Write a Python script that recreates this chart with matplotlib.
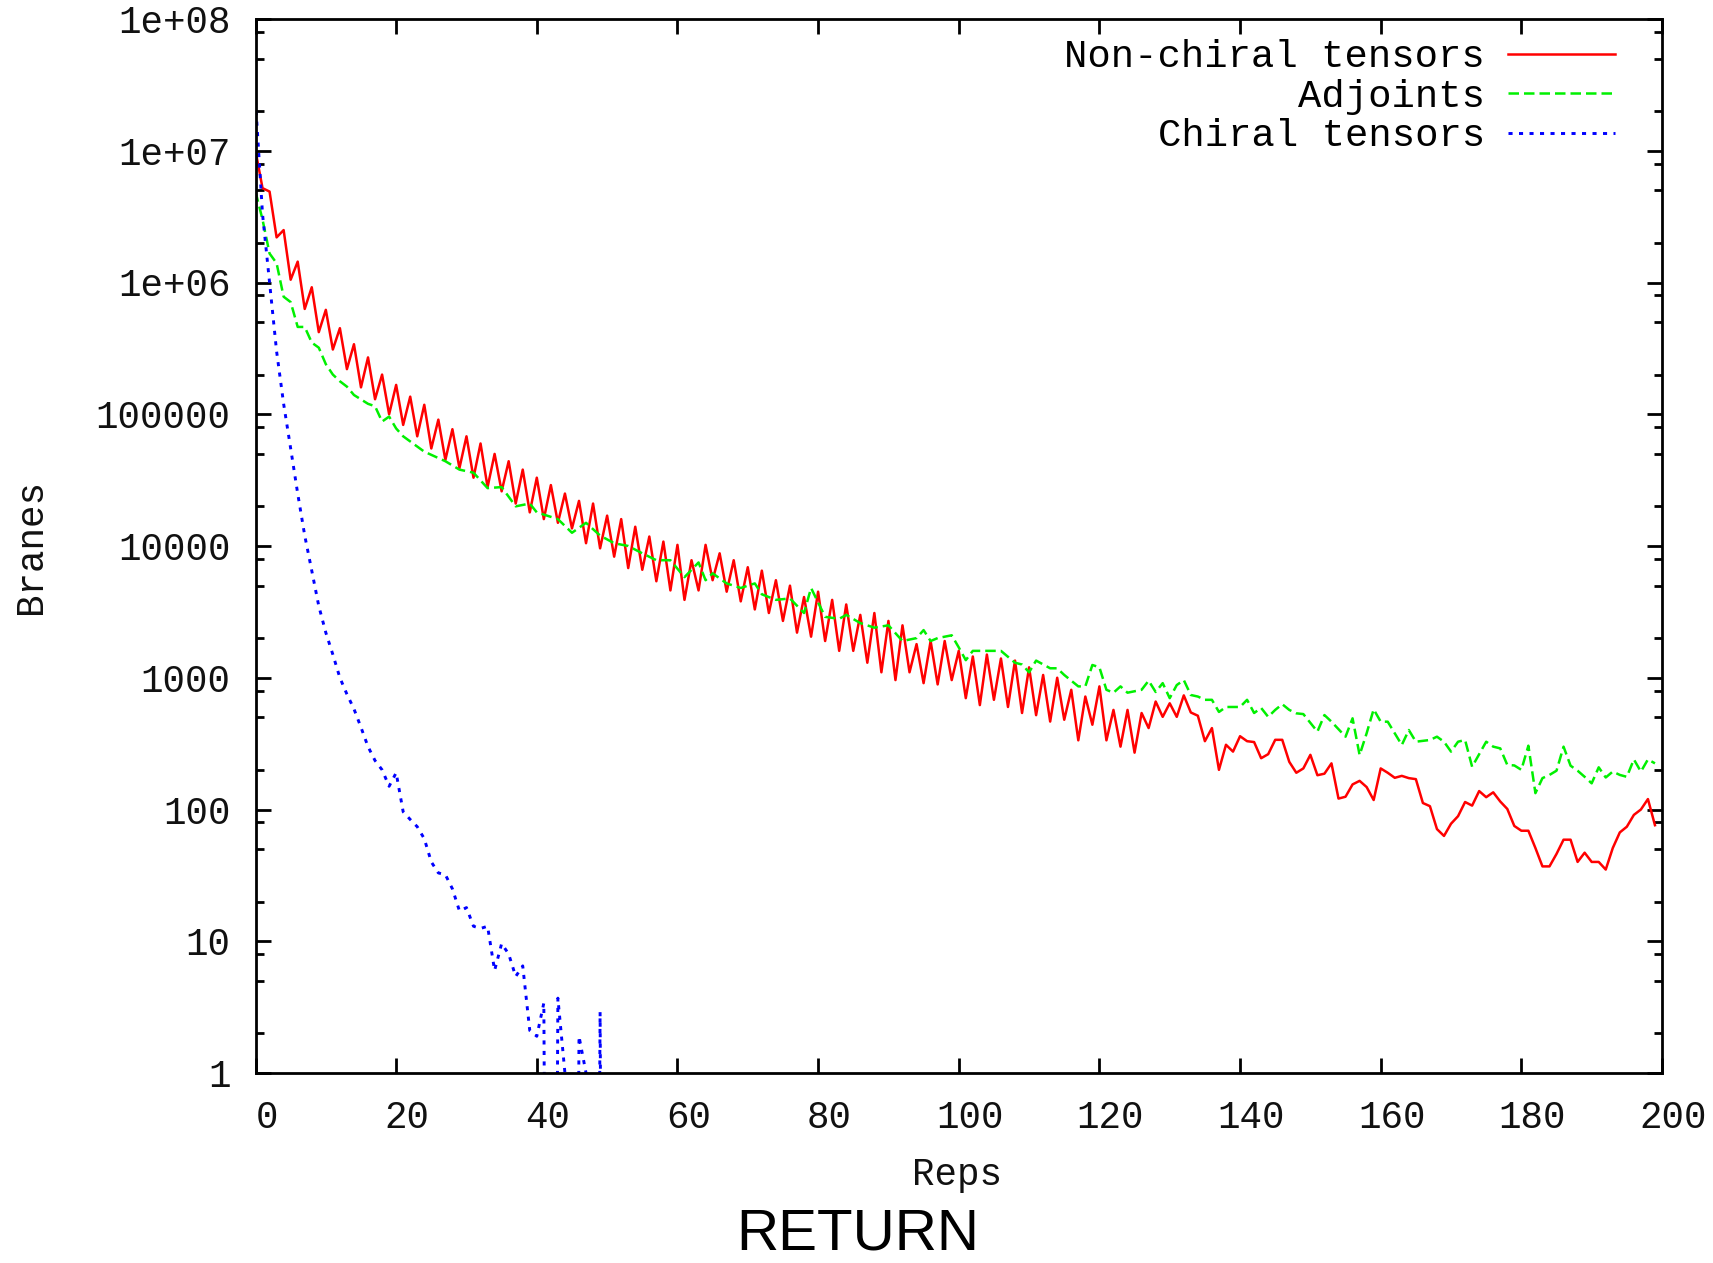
import numpy as np
import matplotlib
matplotlib.use("Agg")
import matplotlib.pyplot as plt
from matplotlib.ticker import FixedLocator, NullFormatter, NullLocator
from matplotlib.transforms import ScaledTranslation

# ---------------- data ----------------
reps = list(range(200))

nonchiral = [
    1.0e7, 5.2e6, 4.9e6, 2.2e6, 2.5e6, 1.05e6, 1.44e6, 6.3e5, 9.2e5, 4.2e5,
    6.2e5, 3.1e5, 4.5e5, 2.2e5, 3.4e5, 1.6e5, 2.7e5, 1.3e5, 2.0e5, 1.0e5,
    1.67e5, 8.3e4, 1.36e5, 6.8e4, 1.18e5, 5.5e4, 9.1e4, 4.5e4, 7.7e4, 3.9e4,
    6.8e4, 3.3e4, 6.0e4, 2.8e4, 5.0e4, 2.6e4, 4.4e4, 2.1e4, 3.8e4, 1.8e4,
    3.3e4, 1.6e4, 2.9e4, 1.5e4, 2.5e4, 1.36e4, 2.2e4, 1.05e4, 2.1e4, 9.6e3,
    1.7e4, 8.3e3, 1.6e4, 6.8e3, 1.4e4, 6.6e3, 1.18e4, 5.4e3, 1.08e4, 4.6e3,
    1.02e4, 3.9e3, 7.8e3, 4.6e3, 1.02e4, 5.5e3, 8.8e3, 4.5e3, 7.8e3, 3.8e3,
    6.9e3, 3.3e3, 6.5e3, 3.1e3, 5.5e3, 2.7e3, 5.0e3, 2.2e3, 4.1e3, 2.05e3,
    4.5e3, 1.9e3, 3.9e3, 1.6e3, 3.6e3, 1.6e3, 3.0e3, 1.3e3, 3.1e3, 1.1e3,
    2.7e3, 960, 2.5e3, 1.1e3, 1.8e3, 910, 1.9e3, 890, 1.9e3, 960,
    1.6e3, 700, 1.45e3, 620, 1.5e3, 680, 1.4e3, 600, 1.35e3, 540,
    1.2e3, 520, 1.05e3, 465, 1.0e3, 480, 810, 335, 720, 440,
    860, 335, 570, 300, 570, 270, 540, 415, 660, 505,
    640, 505, 735, 545, 515, 330, 415, 200, 310, 275,
    360, 330, 325, 245, 263, 338, 338, 230, 190, 205,
    260, 182, 187, 224, 121, 125, 155, 165, 148, 118,
    205, 190, 174, 180, 173, 170, 112, 106, 71, 63,
    78, 89, 114, 107, 138, 124, 135, 115, 101, 75,
    69, 69, 51, 37, 37, 46, 59, 59, 40, 47,
    40, 40, 35, 51, 67, 74, 91, 100, 120, 76,
]

adj_x = [0, 1, 2, 3, 4, 5, 6, 7, 8, 9, 10, 11, 12, 13, 14, 16, 17, 18, 19, 20,
         21, 24, 27, 29, 31, 33, 35, 37, 39, 40, 43, 45, 47, 49, 51, 53, 55, 57,
         59, 61, 63, 64, 65, 67, 69, 71, 72, 74, 76, 78, 79, 81, 83, 84, 86, 88,
         90, 92, 94, 95, 96, 97, 99, 100, 101, 102, 104, 106, 108, 109, 110, 111,
         113, 114, 115, 117, 118, 119, 120, 121, 122, 123, 124, 126, 127, 128,
         129, 130, 131, 132, 133, 134, 135, 136, 137, 138, 140, 141, 142, 143,
         144, 145, 146, 147, 148, 149, 151, 152, 153, 155, 156, 157, 158, 159,
         160, 161, 163, 164, 165, 167, 168, 169, 170, 171, 172, 173, 175, 176,
         177, 178, 179, 180, 181, 182, 183, 184, 185, 186, 187, 188, 189, 190,
         191, 192, 193, 194, 195, 196, 197, 198, 199]
adjoints = [4.9e6, 3.0e6, 1.66e6, 1.4e6, 7.8e5, 7.1e5, 4.6e5, 4.6e5, 3.5e5, 3.2e5,
            2.4e5, 2.0e5, 1.78e5, 1.62e5, 1.4e5, 1.2e5, 1.15e5, 8.8e4, 9.6e4, 7.8e4,
            6.8e4, 5.2e4, 4.4e4, 3.8e4, 3.6e4, 2.75e4, 2.8e4, 2.0e4, 2.1e4, 1.8e4,
            1.6e4, 1.26e4, 1.5e4, 1.2e4, 1.05e4, 1.0e4, 8.8e3, 7.8e3,
            7.8e3, 5.8e3, 7.5e3, 5.5e3, 6.2e3, 5.2e3, 4.8e3, 5.2e3, 4.3e3, 3.9e3,
            4.0e3, 3.1e3, 4.8e3, 2.9e3, 2.8e3, 3.0e3, 2.6e3, 2.4e3,
            2.5e3, 1.9e3, 2.0e3, 2.3e3, 1.9e3, 2.0e3, 2.1e3, 1.7e3, 1.36e3, 1.6e3,
            1.6e3, 1.6e3, 1.3e3, 1.26e3, 1.1e3, 1.35e3,
            1.18e3, 1.18e3, 1.05e3, 860, 860, 1.25e3, 1.2e3, 810, 770, 860,
            770, 810, 950, 780,
            910, 700, 880, 960, 740, 720, 680, 680, 550, 600, 600, 680, 540, 590,
            505, 570, 630, 570, 537, 530, 390, 521, 464, 357, 492, 259, 379, 576,
            464, 464, 309, 401, 327, 337, 357, 327, 275, 327, 337, 211, 327, 300,
            291, 218, 216, 200, 305, 133, 173, 183, 197, 300, 215, 197, 177, 158,
            209, 175, 194, 183, 177, 240, 194, 240, 224]

chiral_x = list(range(51))
chiral = [2.4e7, 3.3e6, 1.0e6, 3.0e5, 1.2e5, 5.5e4, 2.5e4, 1.2e4, 6.5e3, 3.5e3,
          2.2e3, 1.5e3, 1.0e3, 750, 580, 420, 300, 235, 200, 150,
          190, 96, 84, 74, 60, 40, 33, 32, 25, 17,
          18, 13, 12.5, 13, 6.0, 9.6, 8.0, 5.4, 6.5, 2.1,
          1.9, 3.4, 1e-9, 3.7, 1.0, 1e-9, 1.9, 1.0, 1e-9, 2.9,
          1e-9]

xticks = [0, 20, 40, 60, 80, 100, 120, 140, 160, 180, 200]
yticks = [1, 10, 100, 1000, 10000, 100000, 1e6, 1e7, 1e8]
ytick_labels = ["1", "10", "100", "1000", "10000", "100000", "1e+06", "1e+07", "1e+08"]
yminor = [m * 10.0 ** e for e in range(0, 8) for m in (2, 5, 8)]

# ---------------- figure ----------------
W, H, DPI = 1713, 1263, 100
fig = plt.figure(figsize=(W / DPI, H / DPI), dpi=DPI)
ax = fig.add_axes([255.5 / W, 1 - 1073 / H, (1662 - 255.5) / W, (1073 - 19) / H])

mono = ["Liberation Mono", "DejaVu Sans Mono"]
FS = 27

ax.plot(reps, nonchiral, color="#ff0000", lw=1.8, label="Non-chiral tensors")
ax.plot(adj_x, adjoints, color="#00f000", lw=1.8, dashes=(4.2, 2.0), label="Adjoints")
ax.plot(chiral_x, chiral, color="#0000ff", lw=2.1, dashes=(1.4, 2.2), label="Chiral tensors")

ax.set_yscale("log", nonpositive="clip")
ax.set_xlim(0, 200)
ax.set_ylim(1, 1e8)

ax.xaxis.set_major_locator(FixedLocator(xticks))
ax.xaxis.set_minor_locator(NullLocator())
ax.set_xticklabels([str(t) for t in xticks], fontfamily=mono, fontsize=FS)
ax.yaxis.set_major_locator(FixedLocator(yticks))
ax.yaxis.set_minor_locator(FixedLocator(yminor))
ax.yaxis.set_minor_formatter(NullFormatter())
ax.set_yticklabels(ytick_labels, fontfamily=mono, fontsize=FS)

ax.tick_params(which="both", direction="in", top=True, right=True, width=2.0, color="black")
ax.tick_params(which="major", length=11)
ax.tick_params(which="minor", length=5.5)
ax.tick_params(axis="x", which="major", pad=19.5, labelcolor="#111111")
ax.tick_params(axis="y", which="major", pad=18, labelcolor="#111111")
for s in ax.spines.values():
    s.set_linewidth(2.0)

offset = ScaledTranslation(11 / DPI, 0, fig.dpi_scale_trans)
for lab in ax.xaxis.get_majorticklabels():
    lab.set_transform(lab.get_transform() + offset)

fig.text(31 / W, 1 - 546 / H, "Branes", rotation=90, ha="center", va="center",
         fontfamily=mono, fontsize=FS, color="#111111")
fig.text(957 / W, 1 - 1185 / H, "Reps", ha="center", va="baseline",
         fontfamily=mono, fontsize=FS, color="#111111")
fig.text(858 / W, 1 - 1250 / H, "RETURN", ha="center", va="baseline",
         fontfamily=["Liberation Sans", "DejaVu Sans"], fontsize=42, color="black")

leg = ax.legend(loc="upper right", bbox_to_anchor=((1615 - 255.5) / (1662 - 255.5), 0.9807),
                frameon=False, markerfirst=False, borderaxespad=0, borderpad=0,
                handlelength=2.74, handletextpad=0.6, labelspacing=0.09,
                prop={"family": mono, "size": 28})

fig.savefig("out.png", dpi=DPI)
